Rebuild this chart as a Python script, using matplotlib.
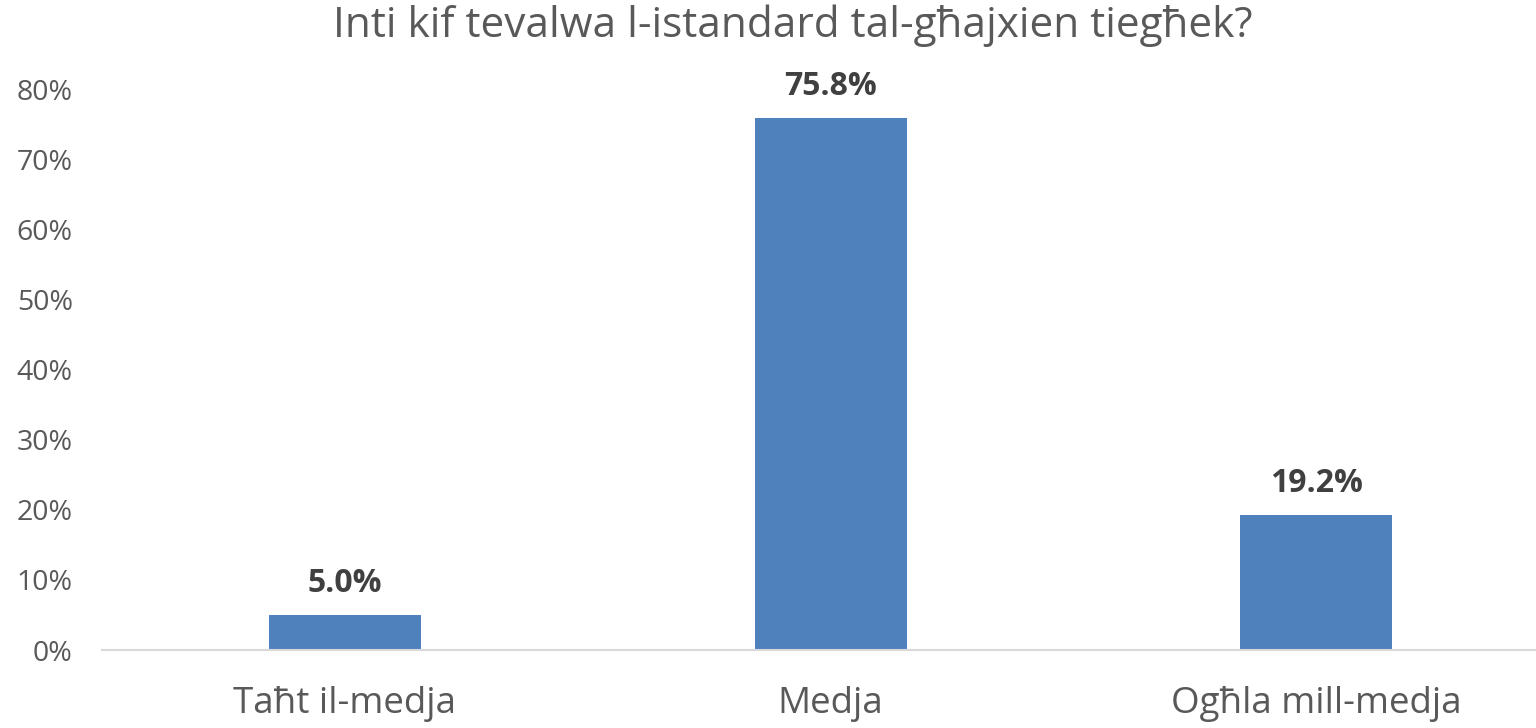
import matplotlib
matplotlib.use('Agg')
import matplotlib.pyplot as plt
from matplotlib.ticker import PercentFormatter

plt.rcParams['font.family'] = ['Open Sans', 'DejaVu Sans']

title = 'Inti kif tevalwa l-istandard tal-għajxien tiegħek?'
categories = ['Taħt il-medja', 'Medja', 'Ogħla mill-medja']
values = [5.0, 75.8, 19.2]
yticks = [0, 10, 20, 30, 40, 50, 60, 70, 80]

fig = plt.figure(figsize=(15.36, 7.28), dpi=100)
ax = fig.add_axes([0.0664, 0.1071, 0.9486, 0.7706])

x = range(len(categories))
bars = ax.bar(x, values, width=0.313, color='#4F81BD')

for b, v in zip(bars, values):
    ax.annotate('%.1f%%' % v, (b.get_x() + b.get_width() / 2, v),
                xytext=(0, 11), textcoords='offset points',
                ha='center', va='bottom', fontsize=23, fontweight='bold',
                color='#404040')

ax.set_xlim(-0.5, 2.5)
ax.set_ylim(0, 80)
ax.set_yticks(yticks)
ax.yaxis.set_major_formatter(PercentFormatter(decimals=0))
ax.set_xticks(list(x))
ax.set_xticklabels(categories)

for s in ['top', 'right', 'left']:
    ax.spines[s].set_visible(False)
ax.spines['bottom'].set_color('#D9D9D9')
ax.spines['bottom'].set_linewidth(1.5)

ax.tick_params(axis='y', length=0, labelsize=20.5, labelcolor='#595959', pad=21)
ax.tick_params(axis='x', length=0, labelsize=26.5, labelcolor='#595959', pad=26)

fig.text(0.516, 0.965, title, ha='center', va='center', fontsize=30.4, color='#595959')

fig.savefig('out.png', dpi=100)
